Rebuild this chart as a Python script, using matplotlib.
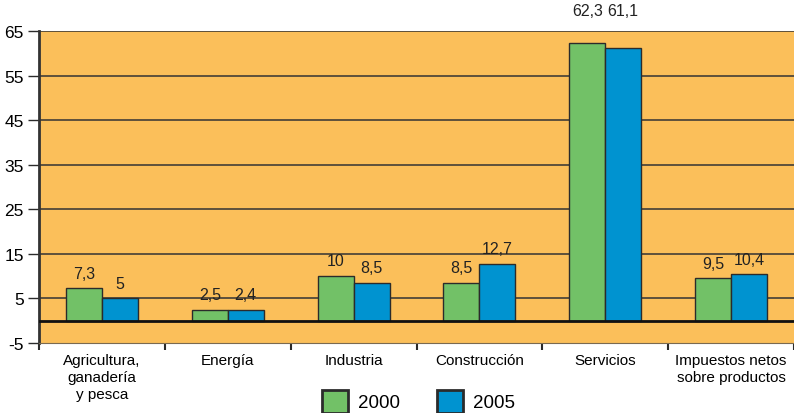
import matplotlib
matplotlib.use("Agg")
import matplotlib.pyplot as plt
from matplotlib.patches import Patch
import numpy as np

categories = ["Agricultura,\nganadería\ny pesca", "Energía", "Industria",
              "Construcción", "Servicios", "Impuestos netos\nsobre productos"]
years = ["2000", "2005"]
values_2000 = [7.3, 2.5, 10, 8.5, 62.3, 9.5]
values_2005 = [5, 2.4, 8.5, 12.7, 61.1, 10.4]
yticks = [-5, 5, 15, 25, 35, 45, 55, 65]

green = "#72c167"
blue = "#0093d0"
bg = "#fbbf5a"
edge = "#2b2b2b"

plt.rcParams["font.family"] = ["Liberation Sans Narrow", "Liberation Sans", "DejaVu Sans"]

fig = plt.figure(figsize=(7.94, 4.14), dpi=100)
ax = fig.add_axes([39 / 794, 1 - 344 / 414, 1 - 39 / 794, (344 - 32) / 414])
ax.set_facecolor(bg)

x = np.arange(len(categories))
w = 0.286
b1 = ax.bar(x - w / 2, values_2000, w, color=green, edgecolor=edge, linewidth=1, zorder=3)
b2 = ax.bar(x + w / 2, values_2005, w, color=blue, edgecolor=edge, linewidth=1, zorder=3)

def fmt(v):
    s = f"{v:g}"
    return s.replace(".", ",")

for bars, vals in ((b1, values_2000), (b2, values_2005)):
    for r, v in zip(bars, vals):
        y = v + 3.4 if v + 3.4 < 63 else 69.5
        ax.text(r.get_x() + r.get_width() / 2, y, fmt(v), ha="center", va="center",
                fontsize=11.5, color="#222222", clip_on=False)

ax.set_xlim(-0.5, len(categories) - 0.5)
ax.set_ylim(-5, 65)
ax.set_yticks(yticks)
ax.set_yticklabels([str(t) for t in yticks], fontsize=12.5)
ax.tick_params(axis="y", length=8, width=1, color=edge, pad=3)

for t in yticks[1:]:
    ax.axhline(t, color="#333333", linewidth=1.1, zorder=1)
ax.axhline(0, color="#111111", linewidth=2, zorder=4)

ax.set_xticks(x)
ax.set_xticklabels(categories, fontsize=11, linespacing=1.3, va="top")
ax.tick_params(axis="x", length=0, pad=7)
ax.set_xticks(np.arange(-0.5, len(categories), 1), minor=True)
ax.tick_params(axis="x", which="minor", length=5, width=1.5, color=edge)

for s in ("top", "right"):
    ax.spines[s].set_visible(False)
ax.spines["left"].set_linewidth(2)
ax.spines["left"].set_color("#333333")
ax.spines["bottom"].set_linewidth(0.8)
ax.spines["bottom"].set_color("#7a6a50")

handles = [Patch(facecolor=green, edgecolor=edge, linewidth=2),
           Patch(facecolor=blue, edgecolor=edge, linewidth=2)]
fig.legend(handles, years, loc="lower center", bbox_to_anchor=(0.527, -0.04),
           ncol=2, frameon=False, fontsize=13.5, handlelength=1.4, handleheight=1.5,
           columnspacing=2.0, handletextpad=0.5)

fig.savefig("out.png", dpi=100, facecolor="white")
